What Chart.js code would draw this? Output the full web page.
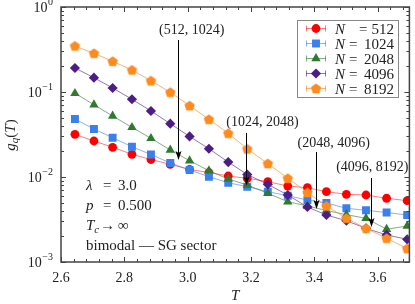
<!DOCTYPE html>
<html>
<head>
<meta charset="utf-8">
<script src="https://cdn.jsdelivr.net/npm/chart.js@4.4.0/dist/chart.umd.min.js"></script>
<style>
  html, body { margin: 0; padding: 0; background: #fff; }
  canvas { display: block; }
</style>
</head>
<body>
<canvas id="gq" width="415" height="304"></canvas>
<script>
// temperaturas (eje x) y g_q(T) para cada tamaño
const temps = [2.644, 2.704, 2.763, 2.824, 2.884, 2.945, 3.006, 3.067, 3.128, 3.188, 3.253, 3.316, 3.378, 3.438, 3.501, 3.563, 3.628, 3.693];
const g512  = [0.0318, 0.02652, 0.02236, 0.0185, 0.01606, 0.01411, 0.01225, 0.01129, 0.01027, 0.00966, 0.00881, 0.00783, 0.00748, 0.00672, 0.00626, 0.00614, 0.00562, 0.00526];
const g1024 = [0.0481, 0.0367, 0.0290, 0.0227, 0.0184, 0.01461, 0.01209, 0.01008, 0.00857, 0.00769, 0.00672, 0.00603, 0.00536, 0.00495, 0.00428, 0.00406, 0.00382, 0.00357];
const g2048 = [0.0966, 0.0709, 0.0522, 0.0384, 0.0285, 0.0208, 0.01555, 0.01186, 0.00947, 0.00805, 0.00643, 0.00512, 0.00456, 0.00404, 0.00360, 0.00327, 0.00243, 0.00265];
const g4096 = [0.1916, 0.1473, 0.1115, 0.0822, 0.0598, 0.0424, 0.0300, 0.0215, 0.0150, 0.0107, 0.0082, 0.00614, 0.00444, 0.00357, 0.00306, 0.00249, 0.00208, 0.00185];
const g8192 = [0.3477, 0.2853, 0.2298, 0.1815, 0.1358, 0.0992, 0.0690, 0.0477, 0.0327, 0.0214, 0.0144, 0.00966, 0.00657, 0.00456, 0.00327, 0.00249, 0.00190, 0.00144];
const sizes = ['512', '1024', '2048', '4096', '8192'];

// etiquetas de los ejes
const xTicks = [2.6, 2.8, 3.0, 3.2, 3.4, 3.6];
const xTickLabels = ['2.6', '2.8', '3.0', '3.2', '3.4', '3.6'];
const yTicks = [1, 0.1, 0.01, 0.001];
const yTickExp = ['0', '\u22121', '\u22122', '\u22123'];

// flechas de los cruces (T, g arriba, g punta) y sus textos
const crossLabels = ['(512, 1024)', '(1024, 2048)', '(2048, 4096)', '(4096, 8192)'];
const crossT    = [2.970, 3.183, 3.406, 3.579];
const crossTop  = [0.409, 0.0330, 0.0197, 0.00973];
const crossTip  = [0.01585, 0.00794, 0.0042, 0.00258];
const labelT    = [3.0125, 3.236, 3.461, 3.583];
const labelG    = [0.536, 0.0444, 0.0251, 0.0131];

const serif = '"Liberation Serif", "DejaVu Serif", serif';
const colors = ['#ff0000', '#3a7fee', '#2f7a2f', '#4c1d87', '#ff8a1e'];
const lineColors = ['rgba(255,0,0,0.5)', 'rgba(58,127,238,0.6)', 'rgba(47,122,47,0.6)', 'rgba(76,29,135,0.6)', 'rgba(255,138,30,0.65)'];

// pentágono para N = 8192
function pentagon(color, r) {
    const c = document.createElement('canvas');
    c.width = c.height = Math.ceil(2 * r + 2);
    const p = c.getContext('2d');
    p.fillStyle = color;
    p.beginPath();
    for (let k = 0; k < 5; k++) {
        const a = -Math.PI / 2 + k * 2 * Math.PI / 5;
        const px = c.width / 2 + r * Math.cos(a), py = c.height / 2 + 0.5 + r * Math.sin(a);
        k ? p.lineTo(px, py) : p.moveTo(px, py);
    }
    p.closePath();
    p.fill();
    return c;
}
const pent = pentagon(colors[4], 5.4);
const styles = ['circle', 'rect', 'triangle', 'rectRot', pent];
const radii = [4.4, 5.6, 5.4, 5.1, 5.4];

const series = [g512, g1024, g2048, g4096, g8192];
const datasets = series.map((s, i) => ({
    label: 'N = ' + sizes[i],
    data: temps.map((t, j) => ({ x: t, y: s[j] })),
    borderColor: lineColors[i],
    borderWidth: 1,
    backgroundColor: colors[i],
    pointBackgroundColor: colors[i],
    pointBorderColor: colors[i],
    pointBorderWidth: 0,
    pointStyle: styles[i],
    pointRadius: radii[i],
    tension: 0,
    order: 4 - i
}));

// texto con partes de distinta fuente
function rich(ctx, parts, x, y, measureOnly) {
    let w = 0;
    parts.forEach(p => {
        ctx.font = p.f;
        if (!measureOnly) ctx.fillText(p.t, x + w + (p.dx || 0), y + (p.dy || 0));
        w += ctx.measureText(p.t).width + (p.dx || 0);
    });
    return w;
}

function drawMarker(ctx, i, cx, cy) {
    ctx.fillStyle = colors[i];
    ctx.beginPath();
    const r = radii[i];
    if (i === 0) ctx.arc(cx, cy, r, 0, 2 * Math.PI);
    else if (i === 1) { const s = r * Math.SQRT1_2; ctx.rect(cx - s, cy - s, 2 * s, 2 * s); }
    else if (i === 2) {
        ctx.moveTo(cx, cy - r); ctx.lineTo(cx + r * 0.866, cy + r * 0.5); ctx.lineTo(cx - r * 0.866, cy + r * 0.5); ctx.closePath();
    } else if (i === 3) {
        ctx.moveTo(cx, cy - r); ctx.lineTo(cx + r, cy); ctx.lineTo(cx, cy + r); ctx.lineTo(cx - r, cy); ctx.closePath();
    } else { ctx.drawImage(pent, cx - pent.width / 2, cy - pent.height / 2); return; }
    ctx.fill();
}

const decor = {
    id: 'decor',
    afterDraw(chart) {
        const { ctx, chartArea: a, scales: { x, y } } = chart;
        ctx.save();

        // flechas
        ctx.strokeStyle = '#000';
        ctx.fillStyle = '#000';
        ctx.lineWidth = 1;
        crossT.forEach((t, i) => {
            const px = Math.round(x.getPixelForValue(t)) + 0.5;
            const top = y.getPixelForValue(crossTop[i]);
            const tip = y.getPixelForValue(crossTip[i]);
            ctx.beginPath();
            ctx.moveTo(px, top);
            ctx.lineTo(px, tip - 6);
            ctx.stroke();
            ctx.beginPath();
            ctx.moveTo(px, tip);
            ctx.lineTo(px - 3, tip - 9);
            ctx.lineTo(px, tip - 7);
            ctx.lineTo(px + 3, tip - 9);
            ctx.closePath();
            ctx.fill();
            ctx.font = '14px ' + serif;
            ctx.fillStyle = '#222';
            ctx.textAlign = 'center';
            ctx.textBaseline = 'middle';
            ctx.fillText(crossLabels[i], x.getPixelForValue(labelT[i]), y.getPixelForValue(labelG[i]));
            ctx.fillStyle = '#000';
        });

        // marco y marcas hacia dentro
        ctx.strokeStyle = '#444';
        ctx.lineWidth = 1.5;
        ctx.strokeRect(a.left, a.top, a.right - a.left, a.bottom - a.top);
        ctx.lineWidth = 1;
        ctx.beginPath();
        for (let v = 2.6; v < 3.7; v += 0.04) {
            const px = Math.round(x.getPixelForValue(v)) + 0.5;
            const major = xTicks.some(t => Math.abs(t - v) < 1e-6);
            const L = major ? 5 : 3;
            ctx.moveTo(px, a.bottom); ctx.lineTo(px, a.bottom - L);
            ctx.moveTo(px, a.top); ctx.lineTo(px, a.top + L);
        }
        for (let e = -3; e <= 0; e++) {
            for (let k = 1; k <= 9; k++) {
                const v = k * Math.pow(10, e);
                if (v > 1) break;
                const py = Math.round(y.getPixelForValue(v)) + 0.5;
                const L = k === 1 ? 5 : 3;
                ctx.moveTo(a.left, py); ctx.lineTo(a.left + L, py);
                ctx.moveTo(a.right, py); ctx.lineTo(a.right - L, py);
            }
        }
        ctx.stroke();

        // etiquetas de los ejes
        ctx.fillStyle = '#222';
        ctx.textAlign = 'center';
        ctx.textBaseline = 'alphabetic';
        ctx.font = '14px ' + serif;
        xTicks.forEach((t, i) => ctx.fillText(xTickLabels[i], x.getPixelForValue(t), a.bottom + 20));
        ctx.textAlign = 'left';
        yTicks.forEach((v, i) => {
            const py = y.getPixelForValue(v);
            const parts = [{ t: '10', f: '14px ' + serif }, { t: yTickExp[i], f: '10px ' + serif, dy: -7, dx: 0.5 }];
            const w = rich(ctx, parts, 0, 0, true);
            rich(ctx, parts, a.left - 8 - w, py + 5);
        });

        // títulos
        ctx.font = 'italic 15px ' + serif;
        ctx.textAlign = 'center';
        ctx.fillText('T', (a.left + a.right) / 2, 300);
        ctx.save();
        ctx.translate(15, 135);
        ctx.rotate(-Math.PI / 2);
        ctx.textAlign = 'left';
        const yt = [{ t: 'g', f: 'italic 15px ' + serif }, { t: 'q', f: 'italic 11px ' + serif, dy: 3 },
                    { t: '(', f: '15px ' + serif }, { t: 'T', f: 'italic 15px ' + serif }, { t: ')', f: '15px ' + serif }];
        const yw = rich(ctx, yt, 0, 0, true);
        rich(ctx, yt, -yw / 2, 0);
        ctx.restore();

        // texto de parámetros
        const f15 = '15px ' + serif, i15 = 'italic 15px ' + serif;
        ctx.textAlign = 'left';
        const tx = 86;
        ctx.font = i15; ctx.fillText('\u03bb', tx, 190);
        ctx.font = f15; ctx.fillText('=', 103, 190); ctx.fillText('3.0', 118, 190);
        ctx.font = i15; ctx.fillText('p', tx, 210);
        ctx.font = f15; ctx.fillText('=', 103, 210); ctx.fillText('0.500', 118, 210);
        rich(ctx, [{ t: 'T', f: i15 }, { t: 'c', f: 'italic 11px ' + serif, dy: 3 }], tx, 230);
        ctx.font = f15; ctx.fillText('\u2192', 100, 230); ctx.fillText('\u221e', 118, 230);
        ctx.fillText('bimodal \u2014 SG sector', tx, 250);

        // leyenda
        ctx.fillStyle = '#fff';
        ctx.fillRect(297.5, 20.5, 101, 77);
        ctx.strokeStyle = '#888';
        ctx.lineWidth = 1;
        ctx.strokeRect(297.5, 20.5, 101, 77);
        sizes.forEach((s, i) => {
            const cy = 28.5 + i * 15;
            ctx.strokeStyle = lineColors[i];
            ctx.beginPath();
            ctx.moveTo(306, cy); ctx.lineTo(326, cy);
            ctx.moveTo(306.5, cy - 3); ctx.lineTo(306.5, cy + 3);
            ctx.moveTo(325.5, cy - 3); ctx.lineTo(325.5, cy + 3);
            ctx.stroke();
            drawMarker(ctx, i, 316, cy);
            ctx.fillStyle = '#222';
            ctx.textAlign = 'left';
            ctx.font = i15; ctx.fillText('N', 335, cy + 5);
            ctx.font = f15; ctx.fillText('=', i === 0 ? 359 : 349, cy + 5);
            ctx.textAlign = 'right';
            ctx.fillText(s, 394, cy + 5);
        });
        ctx.restore();
    }
};

new Chart(document.getElementById('gq').getContext('2d'), {
    type: 'line',
    data: { datasets: datasets },
    options: {
        responsive: false,
        animation: false,
        devicePixelRatio: 1,
        layout: { padding: { left: 61, top: 7, right: 3, bottom: 42 } },
        plugins: { legend: { display: false }, tooltip: { enabled: false } },
        scales: {
            x: { type: 'linear', min: 2.6, max: 3.7, display: false },
            y: { type: 'logarithmic', min: 0.001, max: 1, display: false }
        }
    },
    plugins: [decor]
});
</script>
</body>
</html>
